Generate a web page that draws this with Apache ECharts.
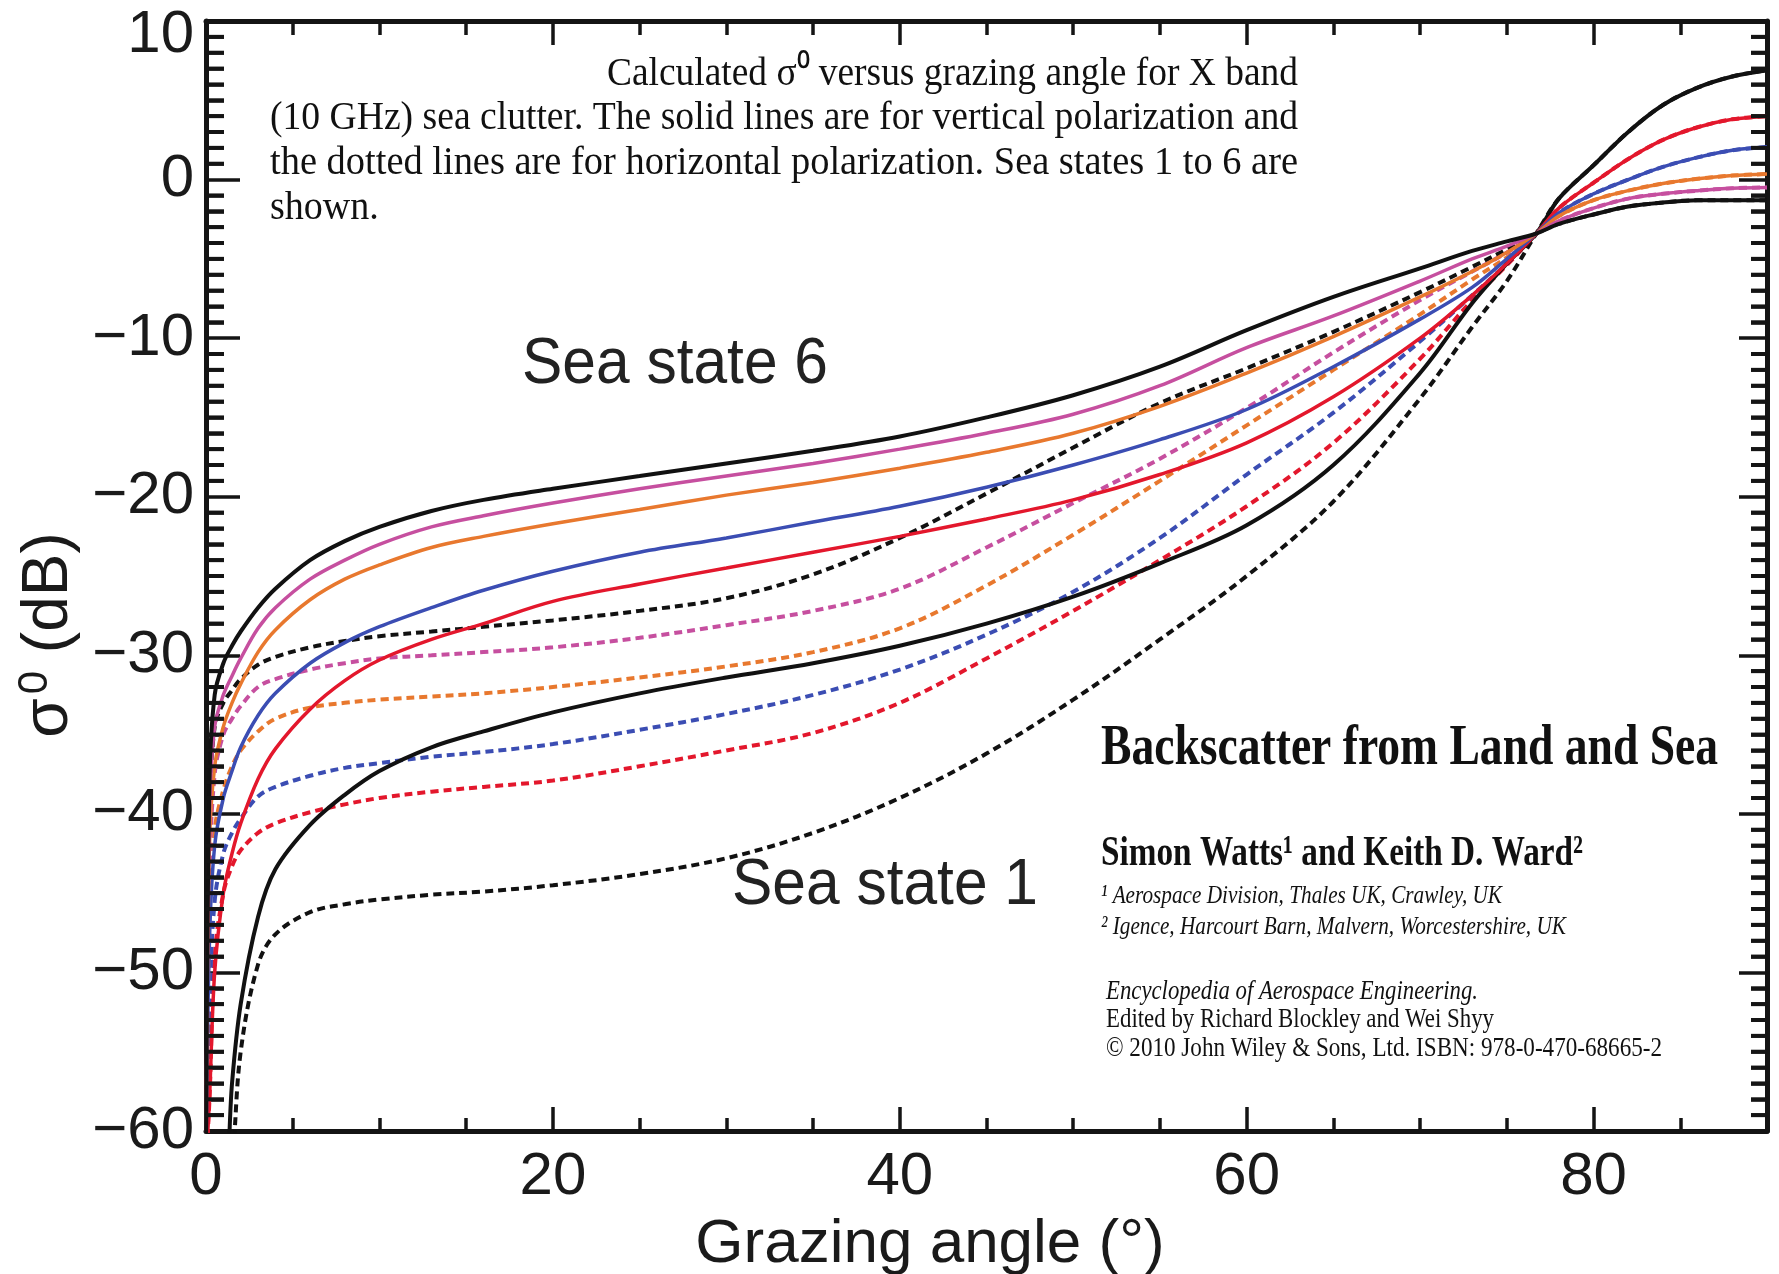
<!DOCTYPE html>
<html>
<head>
<meta charset="utf-8">
<script src="https://cdn.jsdelivr.net/npm/echarts@6/dist/echarts.min.js"></script>
<style>
html,body{margin:0;padding:0;background:#fff;}
#chart{width:1779px;height:1274px;}
</style>
</head>
<body>
<div id="chart"></div>
<script>
// ---------------- DATA ----------------
const angles = [0, 0.2, 0.5, 1, 1.5, 2, 3, 4, 6, 8, 10, 13, 16, 20, 25, 30, 35, 40, 45, 50, 55, 60, 65, 70, 73, 75, 76.7, 78, 80, 82, 84, 86, 88, 90];

// vertical polarisation (solid lines), sea states 1..6, sigma0 in dB
const vSS1 = [-65, -65, -65, -65, -57, -52, -46.5, -43.5, -40.7, -38.8, -37.3, -35.8, -34.8, -33.6, -32.4, -31.4, -30.5, -29.4, -28.0, -26.3, -24.2, -21.8, -18.0, -12.2, -7.8, -5.3, -3.4, -1.2, 0.9, 3.0, 4.7, 5.8, 6.5, 6.9];
const vSS2 = [-62, -58, -50, -45, -42.5, -40.6, -37.8, -35.9, -33.4, -31.6, -30.3, -29.0, -28.0, -26.6, -25.5, -24.5, -23.5, -22.5, -21.4, -20.2, -18.6, -16.6, -13.7, -10.0, -7.3, -5.3, -3.4, -1.8, -0.2, 1.3, 2.5, 3.3, 3.8, 4.0];
const vSS3 = [-62, -48, -42, -39, -37.3, -35.8, -33.8, -32.4, -30.5, -29.2, -28.2, -27.0, -25.9, -24.7, -23.5, -22.6, -21.6, -20.6, -19.4, -18.0, -16.4, -14.5, -11.8, -8.8, -6.8, -5.0, -3.4, -2.1, -0.9, 0.0, 0.8, 1.4, 1.85, 2.05];
const vSS4 = [-62, -42, -37, -34.5, -33.0, -31.8, -29.8, -28.4, -26.5, -25.2, -24.3, -23.2, -22.5, -21.7, -20.8, -19.9, -19.1, -18.2, -17.2, -16.0, -14.3, -12.2, -9.9, -7.4, -5.8, -4.6, -3.4, -2.3, -1.3, -0.7, -0.25, 0.05, 0.25, 0.35];
const vSS5 = [-62, -40, -34.5, -32.5, -31.3, -30.2, -28.3, -27.0, -25.2, -24.0, -23.0, -21.9, -21.2, -20.4, -19.5, -18.7, -17.9, -17.0, -16.0, -14.8, -13.0, -10.6, -8.6, -6.4, -5.0, -4.2, -3.4, -2.6, -1.8, -1.2, -0.9, -0.7, -0.55, -0.5];
const vSS6 = [-62, -38, -32.5, -30.5, -29.4, -28.5, -27.0, -25.8, -24.0, -22.8, -21.9, -20.9, -20.2, -19.5, -18.7, -17.9, -17.1, -16.2, -15.0, -13.6, -11.8, -9.5, -7.4, -5.6, -4.5, -3.9, -3.4, -2.8, -2.2, -1.7, -1.45, -1.3, -1.3, -1.3];

// horizontal polarisation (dotted lines), sea states 1..6
const hSS1 = [-65, -65, -65, -65, -62, -55, -49.5, -47.6, -46.2, -45.7, -45.4, -45.1, -44.9, -44.5, -43.8, -42.8, -41.2, -39.0, -36.2, -32.8, -29.0, -25.0, -20.3, -13.8, -9.3, -6.4, -3.4, -1.2, 0.9, 3.0, 4.7, 5.8, 6.5, 6.9];
const hSS2 = [-62, -58, -49, -45, -43.3, -42.3, -41.2, -40.6, -39.9, -39.4, -39.0, -38.6, -38.3, -37.9, -37.0, -36.0, -34.9, -33.0, -30.2, -27.2, -24.0, -20.6, -16.6, -11.3, -7.6, -5.4, -3.4, -1.8, -0.2, 1.3, 2.5, 3.3, 3.8, 4.0];
const hSS3 = [-62, -52, -45.5, -42.5, -41.2, -40.3, -38.9, -38.3, -37.6, -37.1, -36.8, -36.4, -36.1, -35.6, -34.7, -33.7, -32.5, -30.9, -28.7, -26.0, -22.6, -18.6, -14.7, -10.2, -7.3, -5.3, -3.4, -2.1, -0.9, 0.0, 0.8, 1.4, 1.85, 2.05];
const hSS4 = [-62, -47, -41, -38.5, -37.0, -36.0, -34.8, -34.0, -33.3, -33.0, -32.8, -32.6, -32.4, -32.0, -31.4, -30.7, -29.8, -28.3, -25.6, -22.4, -19.0, -15.5, -12.0, -8.5, -6.3, -4.9, -3.4, -2.3, -1.3, -0.7, -0.25, 0.05, 0.25, 0.35];
const hSS5 = [-62, -44, -37.5, -35.0, -34.0, -33.2, -32.0, -31.5, -30.9, -30.5, -30.2, -30.0, -29.8, -29.5, -28.9, -28.1, -27.2, -25.8, -23.2, -20.4, -17.6, -14.4, -10.9, -7.6, -5.8, -4.6, -3.4, -2.6, -1.8, -1.2, -0.9, -0.7, -0.55, -0.5];
const hSS6 = [-62, -40, -34.5, -33.0, -32.2, -31.5, -30.6, -30.1, -29.5, -29.1, -28.8, -28.5, -28.2, -27.8, -27.2, -26.4, -24.9, -22.6, -19.8, -16.9, -14.1, -11.9, -9.6, -7.1, -5.5, -4.4, -3.4, -2.8, -2.2, -1.7, -1.45, -1.3, -1.3, -1.3];

// axes / tick labels
const xRange = [0, 90];
const yRange = [-60, 10];
const xMajorStep = 20, xMinorStep = 5;
const yMajorStep = 10, yMinorSplit = 10;
// minor tick values on the sigma0 axis (every 1 dB between the 10 dB majors)
const yMinorTicks = [-59, -58, -57, -56, -55, -54, -53, -52, -51,
  -49, -48, -47, -46, -45, -44, -43, -42, -41,
  -39, -38, -37, -36, -35, -34, -33, -32, -31,
  -29, -28, -27, -26, -25, -24, -23, -22, -21,
  -19, -18, -17, -16, -15, -14, -13, -12, -11,
  -9, -8, -7, -6, -5, -4, -3, -2, -1,
  1, 2, 3, 4, 5, 6, 7, 8, 9];

// texts
const xAxisTitle = 'Grazing angle (°)';
const captionLines = [
  'Calculated σ⁰ versus grazing angle for X band',
  '(10 GHz) sea clutter. The solid lines are for vertical polarization and',
  'the dotted lines are for horizontal polarization. Sea states 1 to 6 are',
  'shown.'
];
const seaLabels = ['Sea state 6', 'Sea state 1'];
const creditTitle = 'Backscatter from Land and Sea';
const creditAuthors = 'Simon Watts¹ and Keith D. Ward²';
const creditAff = ['¹ Aerospace Division, Thales UK, Crawley, UK', '² Igence, Harcourt Barn, Malvern, Worcestershire, UK'];
const creditPub = ['Encyclopedia of Aerospace Engineering.', 'Edited by Richard Blockley and Wei Shyy', '© 2010 John Wiley & Sons, Ltd. ISBN: 978-0-470-68665-2'];

// ---------------- STYLE ----------------
const COLORS = {1: '#111111', 2: '#e3172c', 3: '#3b4db3', 4: '#e8782e', 5: '#c64f9f', 6: '#111111'};
const SANS = '"Liberation Sans", Arial, Helvetica, sans-serif';
const SERIF = '"Liberation Serif", "Times New Roman", serif';
const AXC = '#141414';

const solids = {1: vSS1, 2: vSS2, 3: vSS3, 4: vSS4, 5: vSS5, 6: vSS6};
const dashes = {1: hSS1, 2: hSS2, 3: hSS3, 4: hSS4, 5: hSS5, 6: hSS6};

function pairs(arr) { return angles.map((a, i) => [a, arr[i]]); }

const series = [];
[1,2,3,4,5,6].forEach(s => {
  series.push({
    type: 'line', name: 'Sea state ' + s + ' (H)', data: pairs(dashes[s]),
    xAxisIndex: 0, yAxisIndex: 0, showSymbol: false, smooth: 0.35,
    clip: true, silent: true, z: 2,
    lineStyle: {color: COLORS[s], width: 4, type: [8, 5], cap: 'butt'}
  });
});
[1,2,3,4,5,6].forEach(s => {
  series.push({
    type: 'line', name: 'Sea state ' + s + ' (V)', data: pairs(solids[s]),
    xAxisIndex: 0, yAxisIndex: 0, showSymbol: false, smooth: 0.35,
    clip: true, silent: true, z: 3,
    lineStyle: {color: COLORS[s], width: (s === 1 || s === 6) ? 4 : 3.5, type: 'solid'}
  });
});

// text measurement for fitting credit / caption lines to their widths
const mctx = document.createElement('canvas').getContext('2d');
function measure(text, font) { mctx.font = font; return mctx.measureText(text).width; }
function fitText(text, font, left, right, cy, fill) {
  const w = measure(text, font);
  return {
    type: 'text', x: left, y: cy, scaleX: (right - left) / w, scaleY: 1, z: 10, silent: true,
    style: {text: text, font: font, fill: fill || '#111', align: 'left', verticalAlign: 'middle',
            textAlign: 'left', textVerticalAlign: 'middle'}
  };
}
function plainText(text, font, left, cy, scaleX) {
  return {
    type: 'text', x: left, y: cy, scaleX: scaleX, z: 10, silent: true,
    style: {text: text, font: font, fill: '#111', align: 'left', verticalAlign: 'middle',
            textAlign: 'left', textVerticalAlign: 'middle'}
  };
}

const capFont = '41px ' + SERIF;
const capScale2 = (1298 - 270) / measure(captionLines[1], capFont);
const capScale3 = (1298 - 270) / measure(captionLines[2], capFont);
const graphics = [
  fitText(captionLines[0], capFont, 607, 1298, 74),
  fitText(captionLines[1], capFont, 270, 1298, 118),
  fitText(captionLines[2], capFont, 270, 1298, 163),
  plainText(captionLines[3], capFont, 270, 208, (capScale2 + capScale3) / 2),
  fitText(seaLabels[0], '64px ' + SANS, 522, 828, 365, '#222'),
  fitText(seaLabels[1], '64px ' + SANS, 732, 1038, 886, '#222'),
  fitText(creditTitle, 'bold 57px ' + SERIF, 1101, 1718, 749),
  fitText(creditAuthors, 'bold 43px ' + SERIF, 1101, 1583, 854),
  fitText(creditAff[0], 'italic 26px ' + SERIF, 1101, 1502, 896),
  fitText(creditAff[1], 'italic 26px ' + SERIF, 1101, 1566, 927),
  fitText(creditPub[0], 'italic 27px ' + SERIF, 1106, 1478, 992),
  fitText(creditPub[1], '27px ' + SERIF, 1106, 1494, 1020),
  fitText(creditPub[2], '27px ' + SERIF, 1106, 1662, 1049)
];

const yFmt = v => (v === yRange[1] ? '{top|' + v + '}' : String(v).replace('-', '\u2212'));

const axisLineStyle = {show: true, onZero: false, lineStyle: {color: AXC, width: 5}};
const noLine = {show: false, onZero: false};
function tickAxis(position, step, len, extra) {
  const isX = position === 'top' || position === 'bottom';
  return Object.assign({
    type: 'value', position: position,
    min: isX ? xRange[0] : yRange[0], max: isX ? xRange[1] : yRange[1], interval: step,
    axisLine: noLine, axisLabel: {show: false}, splitLine: {show: false},
    axisTick: {show: true, inside: true, length: len, lineStyle: {color: AXC, width: 3.5}}
  }, extra || {});
}

const option = {
  animation: false,
  backgroundColor: '#ffffff',
  grid: {left: 206, right: 12, top: 21, bottom: 143, containLabel: false, outerBoundsMode: 'none'},
  xAxis: [
    { // bottom, labelled, long ticks at 20s
      type: 'value', position: 'bottom', min: xRange[0], max: xRange[1], interval: xMajorStep,
      axisLine: axisLineStyle,
      axisTick: {show: true, inside: true, length: 24, lineStyle: {color: AXC, width: 3.5}},
      splitLine: {show: false},
      axisLabel: {show: true, margin: 16, color: '#1a1a1a', fontFamily: SANS, fontSize: 60,
                  formatter: v => (v % xMajorStep === 0 ? String(v) : '')},
      name: xAxisTitle, nameLocation: 'middle', nameGap: 83,
      nameTextStyle: {fontFamily: SANS, fontSize: 62, color: '#1a1a1a', padding: [0, 113, 0, 0]}
    },
    tickAxis('bottom', xMinorStep, 13),
    tickAxis('top', xMajorStep, 24, {axisLine: axisLineStyle}),
    tickAxis('top', xMinorStep, 14)
  ],
  yAxis: [
    {
      type: 'value', position: 'left', min: yRange[0], max: yRange[1], interval: yMajorStep,
      axisLine: {show: true, lineStyle: {color: AXC, width: 5}},
      axisTick: {show: true, inside: true, length: 34, lineStyle: {color: AXC, width: 3.5}},
      minorTick: {show: true, splitNumber: yMinorSplit, length: 18, lineStyle: {color: AXC, width: 3.5}},
      splitLine: {show: false}, minorSplitLine: {show: false},
      axisLabel: {show: true, margin: 12, color: '#1a1a1a', fontFamily: SANS, fontSize: 60, formatter: yFmt,
                  rich: {top: {fontFamily: SANS, fontSize: 60, color: '#1a1a1a', padding: [28, 0, 0, 0]}}},
      name: '{s|σ}{p|0}{s| (dB)}', nameLocation: 'middle', nameGap: 122, nameRotate: 90,
      nameTextStyle: {
        color: '#1a1a1a', padding: [0, 118, 0, 0],
        rich: {
          s: {fontFamily: SANS, fontSize: 64, color: '#1a1a1a', lineHeight: 70},
          p: {fontFamily: SANS, fontSize: 42, color: '#1a1a1a', verticalAlign: 'top', lineHeight: 70, padding: [0, 0, 22, 4]}
        }
      }
    },
    tickAxis('right', yMajorStep, 28, {axisLine: axisLineStyle,
      minorTick: {show: true, splitNumber: yMinorSplit, length: 16, lineStyle: {color: AXC, width: 3.5}}})
  ],
  series: series,
  graphic: graphics
};

const chart = echarts.init(document.getElementById('chart'), null, {renderer: 'canvas', width: 1779, height: 1274});
chart.setOption(option);

// minor ticks of the sigma0 axis on both frame sides, positioned through the axis scale
const tickLines = [];
yMinorTicks.forEach(v => {
  const pl = chart.convertToPixel({gridIndex: 0}, [xRange[0], v]);
  const pr = chart.convertToPixel({gridIndex: 0}, [xRange[1], v]);
  if (!pl || !pr) return;
  tickLines.push({type: 'line', silent: true, z: 20,
    shape: {x1: pl[0], y1: pl[1], x2: pl[0] + 18, y2: pl[1]}, style: {stroke: AXC, lineWidth: 4}});
  tickLines.push({type: 'line', silent: true, z: 20,
    shape: {x1: pr[0] - 16, y1: pr[1], x2: pr[0], y2: pr[1]}, style: {stroke: AXC, lineWidth: 4}});
});
chart.setOption({graphic: graphics.concat(tickLines)});
</script>
</body>
</html>
